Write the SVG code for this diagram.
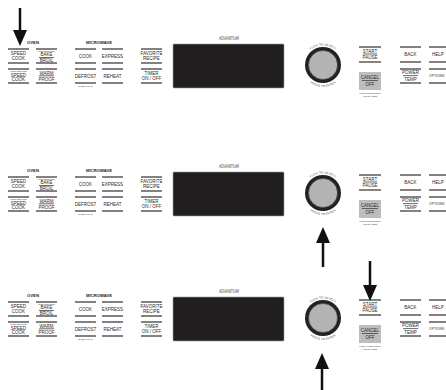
<svg xmlns="http://www.w3.org/2000/svg" xmlns:xlink="http://www.w3.org/1999/xlink" width="446" height="390" viewBox="0 0 446 390">
<style>
text{font-family:"Liberation Sans","Open Sans",sans-serif;fill:#2a2a2a;text-anchor:middle;font-size:4.5px}
.lab{font-size:4.2px;fill:#222;font-weight:bold}
.tiny{font-size:2.5px;fill:#444}
.opt{font-size:3.4px;text-anchor:start}
.bl{stroke:#5a5a5a;stroke-width:1.6;fill:none}
.ul{stroke:#444;stroke-width:0.8;fill:none}
.disp{fill:#211e1f;stroke:#9a9a9a;stroke-width:0.6}
.kout{fill:#222}
.kin{fill:#b3b3b3;stroke:#3a3a3a;stroke-width:0.6}
.arc{font-size:2.8px;fill:#333;letter-spacing:0.2px}
.cancel{fill:#bdbdbd}
.logo{font-size:5px;fill:#444;font-family:"DejaVu Sans","Liberation Sans",sans-serif}
.arr{stroke:#111;stroke-width:2.5;fill:none}
</style>
<defs>
<marker id="ah" markerUnits="userSpaceOnUse" viewBox="0 0 16 14" refX="0" refY="7" markerWidth="16" markerHeight="14" orient="auto"><path d="M0,0 L16,7 L0,14 z" fill="#111"/></marker>
<path id="arcTop" d="M303.5,65 A19.5,19.5 0 0 1 342.5,65"/>
<path id="arcBot" d="M301,65 A22,22 0 0 0 345,65"/>
</defs>

<g id="panel1">
<g id="oven">
<text class="lab" x="33" y="44">OVEN</text>
<path class="bl" d="M8,49H29M8,63H29M36,49H57M36,63H57M8,69H29M8,83H29M36,69H57M36,83H57"/>
<text x="18.5" y="54.5">SPEED</text><text x="18.5" y="59.8">COOK</text>
<text class="tiny" x="46.5" y="52">CONVECTION</text><text x="46.5" y="56.3">BAKE</text><path class="ul" d="M39,57.5H54"/><text x="46.5" y="61.6">BROIL</text>
<text class="tiny" x="18.5" y="72">CONVECTION</text><text x="18.5" y="76.5">SPEED</text><text x="18.5" y="81.2">COOK</text>
<text x="46.5" y="74.5">WARM</text><path class="ul" d="M39,75.8H54"/><text x="46.5" y="80.5">PROOF</text>
</g>
<g id="microwave">
<text class="lab" x="99" y="44">MICROWAVE</text>
<path class="bl" d="M75,49H96M75,63H96M102,49H123M102,63H123M75,69H96M75,83H96M102,69H123M102,83H123"/>
<text x="85.5" y="57.5">COOK</text><text x="112.5" y="57.5">EXPRESS</text>
<text x="85.5" y="77.5">DEFROST</text><text x="112.5" y="77.5">REHEAT</text>
<text class="tiny" x="85.5" y="87">OVEN LIGHT</text>
</g>
<g id="recipe">
<path class="bl" d="M141,49H162M141,63H162M141,69H162M141,83H162"/>
<text x="151.5" y="54.5">FAVORITE</text><text x="151.5" y="59.8">RECIPE</text>
<text x="151.5" y="74.5">TIMER</text><text x="151.5" y="79.8">ON / OFF</text>
</g>
<g id="display">
<text class="logo" x="229" y="39.5" textLength="20" lengthAdjust="spacingAndGlyphs">ADVANTIUM</text>
<rect class="disp" x="173" y="44" width="111" height="44" rx="1"/>
</g>
<g id="knob">
<circle class="kout" cx="323" cy="65" r="18"/>
<circle class="kin" cx="323" cy="65" r="14.5"/>
<text class="arc"><textPath xlink:href="#arcTop" startOffset="50%">TURN TO SELECT</textPath></text>
<text class="arc"><textPath xlink:href="#arcBot" startOffset="50%">PRESS TO ENTER</textPath></text>
</g>
<g id="startcancel">
<path class="bl" d="M359,47H381M359,62H381"/>
<text x="370" y="52.5">START</text><path class="ul" d="M363,54H377"/><text x="370" y="59">PAUSE</text>
<rect class="cancel" x="359" y="72" width="22" height="18"/>
<text x="370" y="79">CANCEL</text><path class="ul" d="M362,80.5H378"/><text x="370" y="86">OFF</text>
<text class="tiny" x="370" y="93.5">LOCK CONTROLS</text><text class="tiny" x="370" y="96.5">HOLD 3 SEC</text>
</g>
<g id="right">
<path class="bl" d="M400,47H421M400,62H421M429,47H450M429,62H450M400,69H421M400,83H421M429,69H450M429,83H450"/>
<text x="410.5" y="56">BACK</text><text x="438" y="56">HELP</text>
<text x="410.5" y="74.3">POWER</text><path class="ul" d="M403,75.6H418"/><text x="410.5" y="80.5">TEMP</text>
<text class="opt" x="429" y="77.3">OPTIONS</text>
</g>
</g>

<g id="panel2" transform="translate(0,128)">
<g id="oven2">
<text class="lab" x="33" y="44">OVEN</text>
<path class="bl" d="M8,49H29M8,63H29M36,49H57M36,63H57M8,69H29M8,83H29M36,69H57M36,83H57"/>
<text x="18.5" y="54.5">SPEED</text><text x="18.5" y="59.8">COOK</text>
<text class="tiny" x="46.5" y="52">CONVECTION</text><text x="46.5" y="56.3">BAKE</text><path class="ul" d="M39,57.5H54"/><text x="46.5" y="61.6">BROIL</text>
<text class="tiny" x="18.5" y="72">CONVECTION</text><text x="18.5" y="76.5">SPEED</text><text x="18.5" y="81.2">COOK</text>
<text x="46.5" y="74.5">WARM</text><path class="ul" d="M39,75.8H54"/><text x="46.5" y="80.5">PROOF</text>
</g>
<g id="microwave2">
<text class="lab" x="99" y="44">MICROWAVE</text>
<path class="bl" d="M75,49H96M75,63H96M102,49H123M102,63H123M75,69H96M75,83H96M102,69H123M102,83H123"/>
<text x="85.5" y="57.5">COOK</text><text x="112.5" y="57.5">EXPRESS</text>
<text x="85.5" y="77.5">DEFROST</text><text x="112.5" y="77.5">REHEAT</text>
<text class="tiny" x="85.5" y="87">OVEN LIGHT</text>
</g>
<g id="recipe2">
<path class="bl" d="M141,49H162M141,63H162M141,69H162M141,83H162"/>
<text x="151.5" y="54.5">FAVORITE</text><text x="151.5" y="59.8">RECIPE</text>
<text x="151.5" y="74.5">TIMER</text><text x="151.5" y="79.8">ON / OFF</text>
</g>
<g id="display2">
<text class="logo" x="229" y="39.5" textLength="20" lengthAdjust="spacingAndGlyphs">ADVANTIUM</text>
<rect class="disp" x="173" y="44" width="111" height="44" rx="1"/>
</g>
<g id="knob2">
<circle class="kout" cx="323" cy="65" r="18"/>
<circle class="kin" cx="323" cy="65" r="14.5"/>
<text class="arc"><textPath xlink:href="#arcTop" startOffset="50%">TURN TO SELECT</textPath></text>
<text class="arc"><textPath xlink:href="#arcBot" startOffset="50%">PRESS TO ENTER</textPath></text>
</g>
<g id="startcancel2">
<path class="bl" d="M359,47H381M359,62H381"/>
<text x="370" y="52.5">START</text><path class="ul" d="M363,54H377"/><text x="370" y="59">PAUSE</text>
<rect class="cancel" x="359" y="72" width="22" height="18"/>
<text x="370" y="79">CANCEL</text><path class="ul" d="M362,80.5H378"/><text x="370" y="86">OFF</text>
<text class="tiny" x="370" y="93.5">LOCK CONTROLS</text><text class="tiny" x="370" y="96.5">HOLD 3 SEC</text>
</g>
<g id="right2">
<path class="bl" d="M400,47H421M400,62H421M429,47H450M429,62H450M400,69H421M400,83H421M429,69H450M429,83H450"/>
<text x="410.5" y="56">BACK</text><text x="438" y="56">HELP</text>
<text x="410.5" y="74.3">POWER</text><path class="ul" d="M403,75.6H418"/><text x="410.5" y="80.5">TEMP</text>
<text class="opt" x="429" y="77.3">OPTIONS</text>
</g>
</g>

<g id="panel3" transform="translate(0,253)">
<g id="oven3">
<text class="lab" x="33" y="44">OVEN</text>
<path class="bl" d="M8,49H29M8,63H29M36,49H57M36,63H57M8,69H29M8,83H29M36,69H57M36,83H57"/>
<text x="18.5" y="54.5">SPEED</text><text x="18.5" y="59.8">COOK</text>
<text class="tiny" x="46.5" y="52">CONVECTION</text><text x="46.5" y="56.3">BAKE</text><path class="ul" d="M39,57.5H54"/><text x="46.5" y="61.6">BROIL</text>
<text class="tiny" x="18.5" y="72">CONVECTION</text><text x="18.5" y="76.5">SPEED</text><text x="18.5" y="81.2">COOK</text>
<text x="46.5" y="74.5">WARM</text><path class="ul" d="M39,75.8H54"/><text x="46.5" y="80.5">PROOF</text>
</g>
<g id="microwave3">
<text class="lab" x="99" y="44">MICROWAVE</text>
<path class="bl" d="M75,49H96M75,63H96M102,49H123M102,63H123M75,69H96M75,83H96M102,69H123M102,83H123"/>
<text x="85.5" y="57.5">COOK</text><text x="112.5" y="57.5">EXPRESS</text>
<text x="85.5" y="77.5">DEFROST</text><text x="112.5" y="77.5">REHEAT</text>
<text class="tiny" x="85.5" y="87">OVEN LIGHT</text>
</g>
<g id="recipe3">
<path class="bl" d="M141,49H162M141,63H162M141,69H162M141,83H162"/>
<text x="151.5" y="54.5">FAVORITE</text><text x="151.5" y="59.8">RECIPE</text>
<text x="151.5" y="74.5">TIMER</text><text x="151.5" y="79.8">ON / OFF</text>
</g>
<g id="display3">
<text class="logo" x="229" y="39.5" textLength="20" lengthAdjust="spacingAndGlyphs">ADVANTIUM</text>
<rect class="disp" x="173" y="44" width="111" height="44" rx="1"/>
</g>
<g id="knob3">
<circle class="kout" cx="323" cy="65" r="18"/>
<circle class="kin" cx="323" cy="65" r="14.5"/>
<text class="arc"><textPath xlink:href="#arcTop" startOffset="50%">TURN TO SELECT</textPath></text>
<text class="arc"><textPath xlink:href="#arcBot" startOffset="50%">PRESS TO ENTER</textPath></text>
</g>
<g id="startcancel3">
<path class="bl" d="M359,47H381M359,62H381"/>
<text x="370" y="52.5">START</text><path class="ul" d="M363,54H377"/><text x="370" y="59">PAUSE</text>
<rect class="cancel" x="359" y="72" width="22" height="18"/>
<text x="370" y="79">CANCEL</text><path class="ul" d="M362,80.5H378"/><text x="370" y="86">OFF</text>
<text class="tiny" x="370" y="93.5">LOCK CONTROLS</text><text class="tiny" x="370" y="96.5">HOLD 3 SEC</text>
</g>
<g id="right3">
<path class="bl" d="M400,47H421M400,62H421M429,47H450M429,62H450M400,69H421M400,83H421M429,69H450M429,83H450"/>
<text x="410.5" y="56">BACK</text><text x="438" y="56">HELP</text>
<text x="410.5" y="74.3">POWER</text><path class="ul" d="M403,75.6H418"/><text x="410.5" y="80.5">TEMP</text>
<text class="opt" x="429" y="77.3">OPTIONS</text>
</g>
</g>

<g id="connectors">
<line class="arr" x1="20" y1="8" x2="20" y2="30" marker-end="url(#ah)"/>
<line class="arr" x1="323" y1="267" x2="323" y2="243" marker-end="url(#ah)"/>
<line class="arr" x1="370" y1="261" x2="370" y2="285" marker-end="url(#ah)"/>
<line class="arr" x1="322" y1="390" x2="322" y2="369" marker-end="url(#ah)"/>
</g>
</svg>
